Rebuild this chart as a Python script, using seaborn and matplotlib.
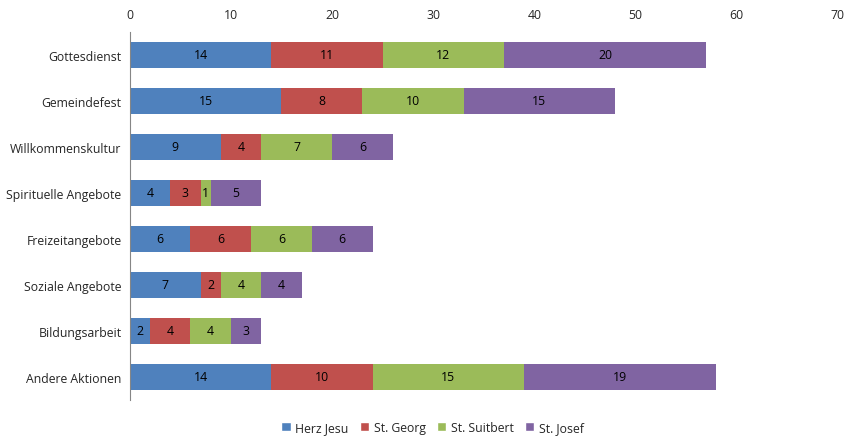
import numpy as np
import pandas as pd
import seaborn as sns
import matplotlib.pyplot as plt
from matplotlib.patches import Patch

categories = ["Gottesdienst", "Gemeindefest", "Willkommenskultur", "Spirituelle Angebote",
              "Freizeitangebote", "Soziale Angebote", "Bildungsarbeit", "Andere Aktionen"]
series = ["Herz Jesu", "St. Georg", "St. Suitbert", "St. Josef"]
herz_jesu = [14, 15, 9, 4, 6, 7, 2, 14]
st_georg = [11, 8, 4, 3, 6, 2, 4, 10]
st_suitbert = [12, 10, 7, 1, 6, 4, 4, 15]
st_josef = [20, 15, 6, 5, 6, 4, 3, 19]
colors = ["#4F81BD", "#C0504D", "#9BBB59", "#8064A2"]

values = np.array([herz_jesu, st_georg, st_suitbert, st_josef])
cum = values.cumsum(axis=0)

sns.set_theme(style="white")
plt.rcParams['font.family'] = ['Open Sans', 'DejaVu Sans']

fig = plt.figure(figsize=(8.48, 4.39), dpi=100)
ax = fig.add_axes([0.153, 0.087, 0.835, 0.838])

# stacked bars: draw cumulative totals from the top layer down
for i in range(len(series) - 1, -1, -1):
    df = pd.DataFrame({"cat": categories, "val": cum[i]})
    sns.barplot(data=df, y="cat", x="val", color=colors[i], saturation=1,
                width=0.57, ax=ax, orient="h", linewidth=0, edgecolor="none")

# value labels in the middle of each segment
for i in range(len(series)):
    for j, cat in enumerate(categories):
        start = cum[i][j] - values[i][j]
        ax.text(start + values[i][j] / 2, j, str(values[i][j]), ha="center", va="center",
                fontsize=8.8, color="black")

ax.set_xlim(0, 70)
ax.set_xticks(range(0, 71, 10))
ax.xaxis.tick_top()
ax.set_xlabel("")
ax.set_ylabel("")
ax.tick_params(axis="x", labelsize=8.8, length=0, pad=8)
ax.tick_params(axis="y", labelsize=8.8, length=0, pad=6)
for s in ["top", "right", "bottom"]:
    ax.spines[s].set_visible(False)
ax.spines["left"].set_color("#868686")
ax.spines["left"].set_linewidth(0.8)

handles = [Patch(facecolor=c, label=s) for c, s in zip(colors, series)]
fig.legend(handles=handles, loc="lower center", ncol=4, frameon=False, fontsize=8.8,
           bbox_to_anchor=(0.51, -0.015), handlelength=0.8, handleheight=0.8,
           handletextpad=0.35, columnspacing=0.9)

fig.savefig("out.png", dpi=100)
